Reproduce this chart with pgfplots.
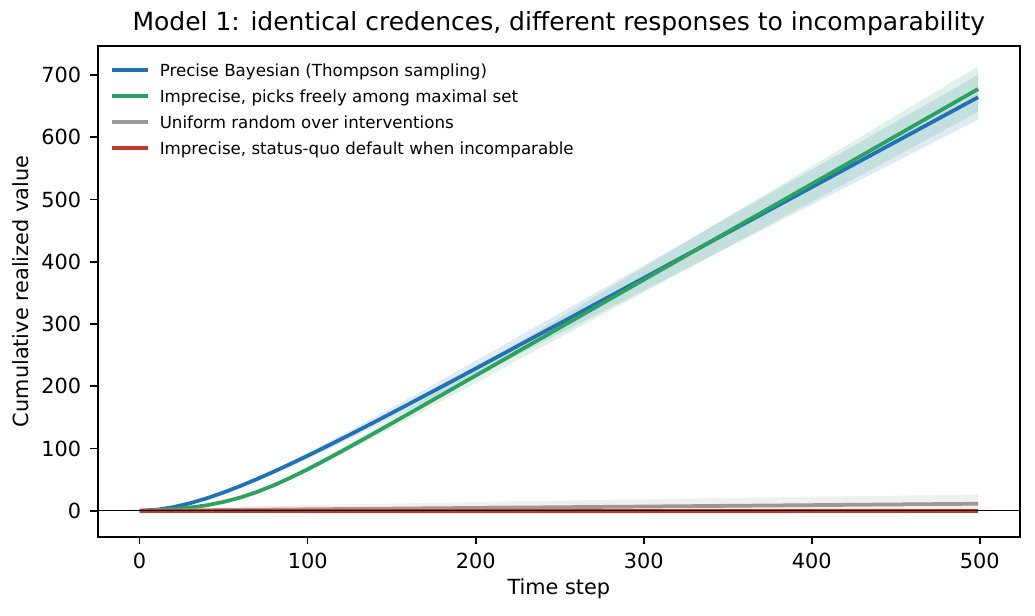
\documentclass[border=0pt]{standalone}
\usepackage{fontspec}
\setmainfont{DejaVu Sans}
\usepackage{pgfplots}
\pgfplotsset{compat=1.18}
\usepackage{pgfplotstable}
\usepgfplotslibrary{fillbetween}

\definecolor{cblue}{HTML}{2171B5}
\definecolor{cgreen}{HTML}{2CA25F}
\definecolor{cgrey}{HTML}{999999}
\definecolor{cred}{HTML}{C0392B}

\pgfplotstableread{
x b blo bhi g glo ghi
0 0 0 0 0 0 0
10 1.54 1.46 1.62 1.02 0.96 1.08
20 5.74 5.43 6.05 2.64 2.50 2.78
30 12.05 11.40 12.70 5.14 4.86 5.42
40 20.05 18.97 21.13 8.86 8.38 9.34
50 29.38 27.79 30.97 14.15 13.39 14.91
60 39.79 37.64 41.94 21.28 20.13 22.43
70 51.04 48.28 53.80 30.30 28.66 31.94
80 62.98 59.58 66.38 41.08 38.86 43.30
90 75.47 71.39 79.55 53.29 50.41 56.17
100 88.37 83.60 93.14 66.59 62.99 70.19
110 101.63 96.14 107.12 80.64 76.29 84.99
120 115.16 108.94 121.38 95.19 90.05 100.33
130 128.90 121.94 135.86 110.06 104.12 116.00
140 142.83 135.12 150.54 125.13 118.37 131.89
150 156.89 148.42 165.36 140.33 132.75 147.91
160 171.05 161.81 180.29 155.62 147.22 164.02
170 185.30 175.29 195.31 170.94 161.71 180.17
180 199.64 188.86 210.42 186.30 176.24 196.36
190 214.02 202.46 225.58 201.67 190.78 212.56
200 228.45 216.11 240.79 217.05 205.33 228.77
250 300.91 284.66 317.16 294.00 278.12 309.88
300 373.80 353.61 393.99 371.00 350.97 391.03
350 446.80 422.67 470.93 448.00 423.81 472.19
400 519.80 491.73 547.87 525.00 496.65 553.35
450 592.80 560.79 624.81 602.00 569.49 634.51
499 664.30 628.43 700.17 677.50 640.91 714.09
}\tblMain

\pgfplotstableread{
x m lo hi
0 0 0 0
25 0.56 -2.79 3.91
50 1.13 -3.61 5.87
100 2.25 -4.45 8.95
150 3.38 -4.83 11.59
200 4.50 -4.98 13.98
250 5.63 -4.96 16.22
300 6.75 -4.85 18.35
350 7.88 -4.65 20.41
400 9.00 -4.40 22.40
450 10.13 -4.08 24.34
499 11.23 -3.74 26.20
}\tblGrey

\begin{document}
\begin{tikzpicture}
\begin{axis}[
  name=ax,
  at={(0,0)}, anchor=south west,
  scale only axis,
  width=442.8pt, height=235.6pt,
  xmin=-24.95, xmax=523.95,
  ymin=-41.8, ymax=746.6,
  xtick={0,100,200,300,400,500},
  ytick={0,100,200,300,400,500,600,700},
  tick align=outside,
  tick pos=left,
  major tick length=3.5pt,
  every tick/.style={black, line width=0.8pt},
  axis line style={black, line width=0.8pt},
  /pgf/number format/assume math mode=true,
  ticklabel style={font=\fontsize{10}{12}\selectfont},
  xticklabel style={anchor=north, inner sep=0pt, yshift=-4.3pt},
  yticklabel style={anchor=east, inner sep=0pt, xshift=-4.2pt},
  scaled ticks=false,
]
% bands
\addplot[draw=none, name path=blo, forget plot] table[x=x,y=blo]{\tblMain};
\addplot[draw=none, name path=bhi, forget plot] table[x=x,y=bhi]{\tblMain};
\addplot[fill=cblue, fill opacity=0.15, draw=none, forget plot] fill between[of=blo and bhi];
\addplot[draw=none, name path=glo, forget plot] table[x=x,y=glo]{\tblMain};
\addplot[draw=none, name path=ghi, forget plot] table[x=x,y=ghi]{\tblMain};
\addplot[fill=cgreen, fill opacity=0.15, draw=none, forget plot] fill between[of=glo and ghi];
\addplot[draw=none, name path=rlo, forget plot] table[x=x,y=lo]{\tblGrey};
\addplot[draw=none, name path=rhi, forget plot] table[x=x,y=hi]{\tblGrey};
\addplot[fill=cgrey, fill opacity=0.15, draw=none, forget plot] fill between[of=rlo and rhi];
% lines
\addplot[cblue, line width=1.8pt, line join=round] table[x=x,y=b]{\tblMain};
\addplot[cgreen, line width=1.8pt, line join=round] table[x=x,y=g]{\tblMain};
\addplot[cgrey, line width=1.8pt, line join=round] table[x=x,y=m]{\tblGrey};
\addplot[cred, line width=1.8pt] coordinates {(0,0) (499,0)};
% zero line
\addplot[black, line width=0.6pt] coordinates {(-24.95,0) (523.95,0)};
\end{axis}
% title and labels
\node[anchor=base, font=\fontsize{12}{14.4}\selectfont] at ([yshift=7.5pt]ax.north) {Model 1: identical credences, different responses to incomparability};
\node[anchor=base, font=\fontsize{10}{12}\selectfont] at ([yshift=-27.8pt]ax.south) {Time step};
\node[anchor=base, rotate=90, font=\fontsize{10}{12}\selectfont] at ([xshift=-33.1pt]ax.west) {Cumulative realized value};
% legend
\begin{scope}[font=\fontsize{8}{9.6}\selectfont]
\draw[cblue, line width=1.8pt] ([shift={(6.7pt,-11.6pt)}]ax.north west) -- ([shift={(24.0pt,-11.6pt)}]ax.north west);
\node[anchor=base west, inner sep=0pt] at ([shift={(29.6pt,-14.6pt)}]ax.north west) {Precise Bayesian (Thompson sampling)};
\draw[cgreen, line width=1.8pt] ([shift={(6.7pt,-24.1pt)}]ax.north west) -- ([shift={(24.0pt,-24.1pt)}]ax.north west);
\node[anchor=base west, inner sep=0pt] at ([shift={(29.6pt,-27.1pt)}]ax.north west) {Imprecise, picks freely among maximal set};
\draw[cgrey, line width=1.8pt] ([shift={(6.7pt,-36.6pt)}]ax.north west) -- ([shift={(24.0pt,-36.6pt)}]ax.north west);
\node[anchor=base west, inner sep=0pt] at ([shift={(29.6pt,-39.6pt)}]ax.north west) {Uniform random over interventions};
\draw[cred, line width=1.8pt] ([shift={(6.7pt,-49.1pt)}]ax.north west) -- ([shift={(24.0pt,-49.1pt)}]ax.north west);
\node[anchor=base west, inner sep=0pt] at ([shift={(29.6pt,-52.1pt)}]ax.north west) {Imprecise, status-quo default when incomparable};
\end{scope}
\pgfresetboundingbox
\path[use as bounding box] ([shift={(-46.9pt,-37.6pt)}]ax.south west) rectangle ([shift={(7.2pt,22.1pt)}]ax.north east);
\end{tikzpicture}
\end{document}
